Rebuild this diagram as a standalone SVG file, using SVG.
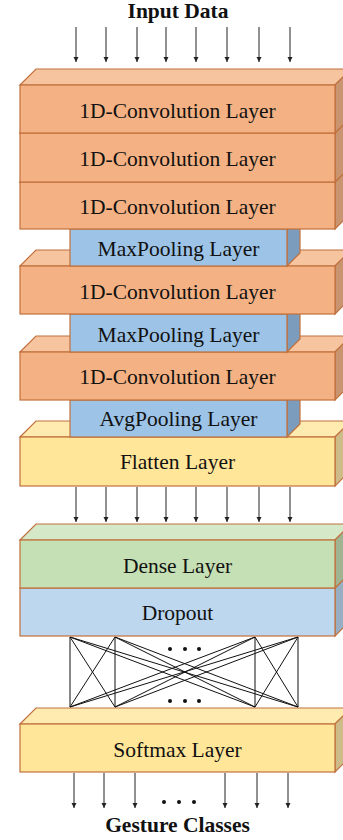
<svg xmlns="http://www.w3.org/2000/svg" width="343" height="840" viewBox="0 0 343 840">
<style>
.edge{stroke:#C0703C;stroke-width:1.2;stroke-linejoin:miter}
.cf{fill:#F4B183}.ct{fill:#F7C4A0}.cs{fill:#C99470}
.pf{fill:#9DC3E6}.ps{fill:#7B9CBC}
.yf{fill:#FFE699}.yt{fill:#FFEBB0}.ys{fill:#CDBC89}
.gf{fill:#C5E0B4}.gt{fill:#D5E8C8}.gs{fill:#A0B492}
.bf{fill:#BDD7EE}.bs{fill:#98AEC2}
.lbl{font-family:"Liberation Serif","Times New Roman",serif;font-size:21.5px;fill:#111;text-anchor:middle}
.ttl{font-family:"Liberation Serif","Times New Roman",serif;font-size:21.5px;font-weight:bold;fill:#111;text-anchor:middle}
.arr{stroke:#222;stroke-width:1;fill:none;marker-end:url(#ah)}
.fc{stroke:#111;stroke-width:1;fill:none}
.dot{fill:#111}
</style>
<defs>
<marker id="ah" markerWidth="6" markerHeight="6" refX="5" refY="3" orient="auto" markerUnits="userSpaceOnUse">
<path d="M0,0.5 L5,3 L0,5.5 Z" fill="#222"/>
</marker>
</defs>

<text class="ttl" x="178" y="18">Input Data</text>

<g id="softmax">
<polygon class="yt edge" points="20,724 36,708 351,708 335,724"/>
<polygon class="ys edge" points="335,724 351,708 351,756 335,772"/>
<rect class="yf edge" x="20" y="724" width="315" height="48"/>
<text class="lbl" x="177.5" y="757">Softmax Layer</text>
</g>

<g id="connectors">
<g id="fc-lines">
<line class="fc" x1="70" y1="637" x2="70" y2="707"/>
<line class="fc" x1="115" y1="637" x2="115" y2="707"/>
<line class="fc" x1="255" y1="637" x2="255" y2="707"/>
<line class="fc" x1="298" y1="637" x2="298" y2="707"/>
<line class="fc" x1="70" y1="637" x2="115" y2="707"/>
<line class="fc" x1="70" y1="637" x2="255" y2="707"/>
<line class="fc" x1="70" y1="637" x2="298" y2="707"/>
<line class="fc" x1="115" y1="637" x2="70" y2="707"/>
<line class="fc" x1="115" y1="637" x2="255" y2="707"/>
<line class="fc" x1="115" y1="637" x2="298" y2="707"/>
<line class="fc" x1="255" y1="637" x2="70" y2="707"/>
<line class="fc" x1="255" y1="637" x2="115" y2="707"/>
<line class="fc" x1="255" y1="637" x2="298" y2="707"/>
<line class="fc" x1="298" y1="637" x2="70" y2="707"/>
<line class="fc" x1="298" y1="637" x2="115" y2="707"/>
<line class="fc" x1="298" y1="637" x2="255" y2="707"/>
<circle class="dot" cx="170" cy="649" r="2"/>
<circle class="dot" cx="185" cy="649" r="2"/>
<circle class="dot" cx="199" cy="649" r="2"/>
<circle class="dot" cx="170" cy="701" r="2"/>
<circle class="dot" cx="185" cy="701" r="2"/>
<circle class="dot" cx="199" cy="701" r="2"/>
</g>
<g id="input-arrows">
<line class="arr" x1="76" y1="27" x2="76" y2="62"/>
<line class="arr" x1="106" y1="27" x2="106" y2="62"/>
<line class="arr" x1="137" y1="27" x2="137" y2="62"/>
<line class="arr" x1="166" y1="27" x2="166" y2="62"/>
<line class="arr" x1="196" y1="27" x2="196" y2="62"/>
<line class="arr" x1="227" y1="27" x2="227" y2="62"/>
<line class="arr" x1="259" y1="27" x2="259" y2="62"/>
<line class="arr" x1="290" y1="27" x2="290" y2="62"/>
</g>
<g id="flatten-arrows">
<line class="arr" x1="76" y1="487" x2="76" y2="522"/>
<line class="arr" x1="106" y1="487" x2="106" y2="522"/>
<line class="arr" x1="137" y1="487" x2="137" y2="522"/>
<line class="arr" x1="166" y1="487" x2="166" y2="522"/>
<line class="arr" x1="196" y1="487" x2="196" y2="522"/>
<line class="arr" x1="227" y1="487" x2="227" y2="522"/>
<line class="arr" x1="259" y1="487" x2="259" y2="522"/>
<line class="arr" x1="290" y1="487" x2="290" y2="522"/>
</g>
<g id="output-arrows">
<line class="arr" x1="74" y1="773" x2="74" y2="808"/>
<line class="arr" x1="104" y1="773" x2="104" y2="808"/>
<line class="arr" x1="135" y1="773" x2="135" y2="808"/>
<line class="arr" x1="225" y1="773" x2="225" y2="808"/>
<line class="arr" x1="257" y1="773" x2="257" y2="808"/>
<line class="arr" x1="288" y1="773" x2="288" y2="808"/>
<circle class="dot" cx="164" cy="802" r="2"/>
<circle class="dot" cx="179" cy="802" r="2"/>
<circle class="dot" cx="194" cy="802" r="2"/>
</g>
</g>

<g id="dropout">
<polygon class="bs edge" points="335,588 351,572 351,620 335,636"/>
<rect class="bf edge" x="20" y="588" width="315" height="48"/>
<text class="lbl" x="177.5" y="620">Dropout</text>
</g>

<g id="dense">
<polygon class="gt edge" points="20,540 36,524 351,524 335,540"/>
<polygon class="gs edge" points="335,540 351,524 351,572 335,588"/>
<rect class="gf edge" x="20" y="540" width="315" height="48"/>
<text class="lbl" x="177.5" y="573">Dense Layer</text>
</g>

<g id="flatten">
<polygon class="yt edge" points="20,437 36,421 351,421 335,437"/>
<polygon class="ys edge" points="335,437 351,421 351,470 335,486"/>
<rect class="yf edge" x="20" y="437" width="315" height="49"/>
<text class="lbl" x="177.5" y="469">Flatten Layer</text>
</g>

<g id="avgpool">
<polygon class="ps edge" points="287,400 300,387 300,424 287,437"/>
<rect class="pf edge" x="70" y="400" width="217" height="37"/>
<text class="lbl" x="178.5" y="426">AvgPooling Layer</text>
</g>

<g id="conv5">
<polygon class="ct edge" points="20,352 36,336 351,336 335,352"/>
<polygon class="cs edge" points="335,352 351,336 351,384 335,400"/>
<rect class="cf edge" x="20" y="352" width="315" height="48"/>
<text class="lbl" x="177.5" y="384">1D-Convolution Layer</text>
</g>

<g id="maxpool2">
<polygon class="ps edge" points="287,314 300,301 300,339 287,352"/>
<rect class="pf edge" x="70" y="314" width="217" height="38"/>
<text class="lbl" x="178.5" y="342">MaxPooling Layer</text>
</g>

<g id="conv4">
<polygon class="ct edge" points="20,266 36,250 351,250 335,266"/>
<polygon class="cs edge" points="335,266 351,250 351,298 335,314"/>
<rect class="cf edge" x="20" y="266" width="315" height="48"/>
<text class="lbl" x="177.5" y="299">1D-Convolution Layer</text>
</g>

<g id="maxpool1">
<polygon class="ps edge" points="287,229 300,216 300,253 287,266"/>
<rect class="pf edge" x="70" y="229" width="217" height="37"/>
<text class="lbl" x="178.5" y="256">MaxPooling Layer</text>
</g>

<g id="conv3">
<polygon class="ct edge" points="20,182 36,166 351,166 335,182"/>
<polygon class="cs edge" points="335,182 351,166 351,213 335,229"/>
<rect class="cf edge" x="20" y="182" width="315" height="47"/>
<text class="lbl" x="177.5" y="214">1D-Convolution Layer</text>
</g>

<g id="conv2">
<polygon class="ct edge" points="20,133 36,117 351,117 335,133"/>
<polygon class="cs edge" points="335,133 351,117 351,166 335,182"/>
<rect class="cf edge" x="20" y="133" width="315" height="49"/>
<text class="lbl" x="177.5" y="166">1D-Convolution Layer</text>
</g>

<g id="conv1">
<polygon class="ct edge" points="20,85 36,69 351,69 335,85"/>
<polygon class="cs edge" points="335,85 351,69 351,117 335,133"/>
<rect class="cf edge" x="20" y="85" width="315" height="48"/>
<text class="lbl" x="177.5" y="118">1D-Convolution Layer</text>
</g>

<text class="ttl" x="177.5" y="832">Gesture Classes</text>
</svg>
